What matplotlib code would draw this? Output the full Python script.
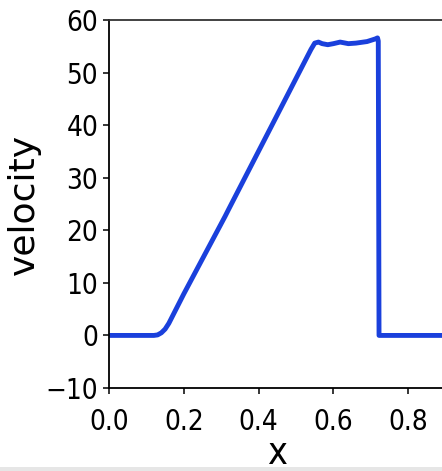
import matplotlib
matplotlib.use("Agg")
import matplotlib.pyplot as plt
from matplotlib.patches import Rectangle

# velocity profile sampled along x
x = [0.0, 0.12, 0.13, 0.14, 0.15, 0.16, 0.18, 0.20, 0.31, 0.32, 0.54, 0.55, 0.56,
     0.57, 0.585, 0.60, 0.618, 0.64, 0.66, 0.69, 0.712, 0.718, 0.72, 0.722, 0.9]
velocity = [0.0, 0.0, 0.1, 0.5, 1.2, 2.3, 5.1, 7.9, 22.6, 24.0, 54.4, 55.6, 55.8,
            55.5, 55.3, 55.5, 55.8, 55.5, 55.6, 55.9, 56.4, 56.6, 56.0, 0.0, 0.0]

x_ticks = [0.0, 0.2, 0.4, 0.6, 0.8]
y_ticks = [-10, 0, 10, 20, 30, 40, 50, 60]

plt.rcParams["font.family"] = ["DejaVu Sans"]

W, H = 442, 471
fig = plt.figure(figsize=(W / 100, H / 100), dpi=100)
left, bottom, top = 109, 388, 20
px_per_unit = 374
ax = fig.add_axes([left / W, (H - bottom) / H, 0.9 * px_per_unit / W, (bottom - top) / H])

ax.plot(x, velocity, color="#1a40dc", linewidth=3.5, solid_joinstyle="round",
        solid_capstyle="round")

ax.set_xlim(0, 0.9)
ax.set_ylim(-10, 60)
ax.set_xticks(x_ticks)
ax.set_yticks(y_ticks)
ax.set_xticklabels([f"{v:.1f}" for v in x_ticks])
ax.set_yticklabels([f"{v}".replace("-", "\u2212") for v in y_ticks])

for lbl in ax.get_xticklabels() + ax.get_yticklabels():
    lbl.set_fontsize(20)
    lbl.set_fontstretch("condensed")

ax.tick_params(axis="both", length=4.3, width=1.1, color="black")
ax.tick_params(axis="x", pad=10)
ax.tick_params(axis="y", pad=3.5)

for side in ("left", "bottom", "top", "right"):
    ax.spines[side].set_linewidth(1.3)
ax.spines["top"].set_color("#333333")

ax.set_xlabel("x", fontsize=27, fontstretch="condensed", labelpad=0)
ax.set_ylabel("velocity", fontsize=26, labelpad=3)

# thin light strip along the lower edge, kept behind the text
fig.patches.append(Rectangle((0, 0), 1, 4 / H, transform=fig.transFigure,
                             facecolor="#e6e6e6", edgecolor="none", zorder=-1))

fig.savefig("out.png", dpi=100)
